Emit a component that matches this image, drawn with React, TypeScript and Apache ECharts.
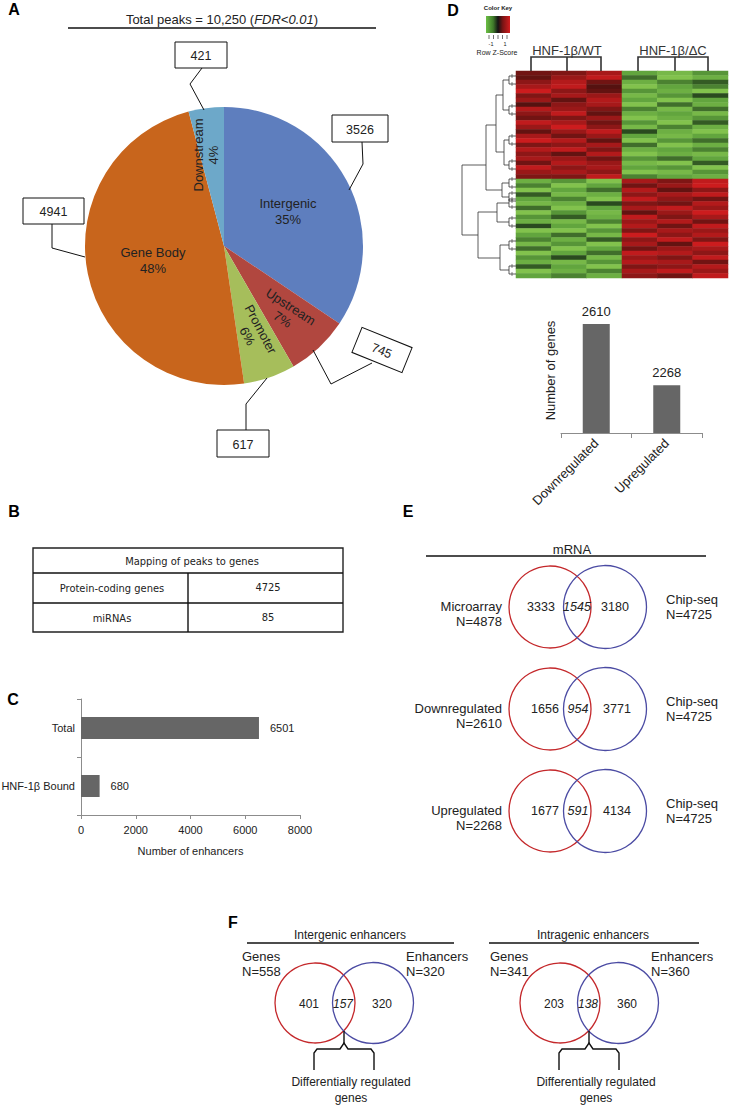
import React, { useEffect, useRef } from 'react';
import * as echarts from 'echarts';

const FONT = '"Liberation Sans", Arial, Helvetica, sans-serif';
const NARROW = '"Liberation Sans Narrow", "Arial Narrow", "DejaVu Sans Condensed", sans-serif';

// ---------- Panel A: peak distribution ----------
const peakTitle = 'Total peaks = 10,250 ({i|FDR<0.01})';
const peakCategories = ['Intergenic', 'Upstream', 'Promoter', 'Gene Body', 'Downstream'];
const peakCounts = [3526, 745, 617, 4941, 421];
const peakColors = ['#5E7EBE', '#B1473F', '#A6BE5B', '#C8651C', '#6DA8C9'];
const peakLabelRotate = [0, -33, -62, 0, 90];

// ---------- Panel B: mapping table ----------
const tableTitle = 'Mapping of peaks to genes';
const tableRows = ['Protein-coding genes', 'miRNAs'];
const tableValues = [4725, 85];

// ---------- Panel C: enhancers ----------
const enhancerCategories = ['HNF-1β Bound', 'Total'];
const enhancerCounts = [680, 6501];

// ---------- Panel D: heatmap + DEG bars ----------
const heatGroups = ['HNF-1β/WT', 'HNF-1β/ΔC'];
const heatCols = ['WT-1', 'WT-2', 'WT-3', 'ΔC-1', 'ΔC-2', 'ΔC-3'];
const heatRows: number[][] = [
  [0.6, 0.7, 1.0, -0.9, -1.1, -0.8],
  [0.5, 0.9, 1.2, -0.6, -1.2, -1.0],
  [0.8, 1.1, 0.6, -1.0, -0.7, -0.5],
  [1.0, 1.2, 0.4, -1.2, -0.9, -0.7],
  [1.3, 0.8, 0.5, -0.8, -1.0, -1.2],
  [0.7, 1.0, 0.9, -1.1, -0.8, -0.4],
  [0.9, 0.5, 1.1, -0.9, -1.2, -0.9],
  [0.4, 0.8, 1.0, -1.2, -0.6, -1.0],
  [1.1, 0.9, 0.7, -0.7, -1.1, -0.6],
  [0.8, 1.2, 0.5, -1.0, -0.9, -1.1],
  [0.6, 0.7, 0.9, -1.2, -1.0, -0.8],
  [1.2, 1.0, 0.6, -0.8, -1.2, -0.5],
  [0.9, 1.3, 0.8, -1.1, -0.7, -1.0],
  [0.5, 0.9, 1.2, -0.4, -1.0, -1.2],
  [1.0, 0.6, 0.9, -0.9, -1.1, -0.9],
  [1.3, 1.1, 0.5, -1.2, -0.8, -0.6],
  [0.7, 0.8, 1.0, -0.6, -1.2, -1.0],
  [1.1, 1.2, 0.7, -1.0, -0.9, -0.7],
  [0.8, 0.5, 1.1, -1.2, -1.0, -1.1],
  [1.0, 0.9, 0.6, -0.8, -0.6, -0.9],
  [0.6, 1.1, 0.9, -1.1, -1.2, -0.5],
  [1.2, 0.8, 1.0, -0.9, -0.8, -1.2],
  [0.9, 1.0, 0.8, -1.2, -1.1, -0.8],
  [0.7, 0.7, 1.2, -0.7, -0.9, -1.0],
  [-1.0, -0.8, -1.2, 1.0, 0.7, 1.2],
  [-0.7, -1.2, -0.9, 0.6, 0.9, 1.3],
  [-1.2, -0.9, -0.6, 1.1, 0.5, 0.8],
  [-0.5, -1.1, -1.0, 0.8, 1.0, 1.2],
  [-0.9, -0.7, -1.2, 1.2, 0.8, 0.6],
  [-1.1, -1.0, -0.4, 0.7, 0.6, 1.1],
  [-0.6, -1.2, -0.9, 1.0, 1.2, 0.9],
  [-1.2, -0.8, -1.1, 0.5, 0.9, 1.3],
  [-0.8, -0.5, -1.0, 1.2, 0.7, 1.0],
  [-1.0, -1.1, -0.7, 0.9, 1.1, 0.6],
  [-0.4, -0.9, -1.2, 1.1, 0.6, 1.2],
  [-1.2, -1.2, -0.8, 0.7, 1.0, 0.9],
  [-0.9, -0.6, -1.1, 1.3, 0.8, 1.1],
  [-0.7, -1.0, -0.5, 0.8, 1.2, 0.7],
  [-1.1, -0.8, -1.2, 1.0, 0.5, 1.3],
  [-0.6, -1.2, -0.9, 0.6, 0.9, 1.0],
  [-1.2, -0.9, -0.6, 1.2, 1.1, 0.8],
  [-0.8, -0.4, -1.1, 0.9, 0.7, 1.2],
  [-1.0, -1.1, -0.8, 1.1, 1.0, 0.6],
  [-0.5, -0.9, -1.2, 0.7, 0.8, 1.1],
  [-1.2, -1.0, -0.7, 1.0, 1.2, 0.9],
  [-0.9, -0.7, -1.0, 0.8, 0.6, 1.2],
];
const degCategories = ['Downregulated', 'Upregulated'];
const degCounts = [2610, 2268];

// ---------- Panel E: mRNA Venns ----------
const eHeader = 'mRNA';
const eLeftNames = ['Microarray', 'Downregulated', 'Upregulated'];
const eLeftN = [4878, 2610, 2268];
const eLeftOnly = [3333, 1656, 1677];
const eBoth = [1545, 954, 591];
const eRightOnly = [3180, 3771, 4134];
const eRightName = 'Chip-seq';
const eRightN = 4725;

// ---------- Panel F: enhancer Venns ----------
const fHeaders = ['Intergenic enhancers', 'Intragenic enhancers'];
const fGenesN = [558, 341];
const fEnhN = [320, 360];
const fGenesOnly = [401, 203];
const fBoth = [157, 138];
const fEnhOnly = [320, 360];
const fBracketText = 'Differentially regulated\ngenes';

// ---------- helpers ----------
const txt = (text: string, x: number, y: number, o: any = {}) => ({
  type: 'text',
  x,
  y,
  z: 50,
  silent: true,
  rotation: o.rotation || 0,
  style: {
    text,
    fill: o.fill || '#222',
    fontSize: o.size || 12,
    fontFamily: o.family || FONT,
    fontWeight: o.weight || 'normal',
    fontStyle: o.italic ? 'italic' : 'normal',
    textAlign: o.align || 'center',
    textVerticalAlign: 'middle',
    lineHeight: o.lineHeight,
    rich: o.rich,
  },
});
const line = (points: number[][], o: any = {}) => ({
  type: 'polyline',
  silent: true,
  z: 40,
  shape: { points },
  style: { stroke: o.stroke || '#111', lineWidth: o.width || 1, fill: 'none' },
});
const circ = (cx: number, cy: number, r: number, stroke: string) => ({
  type: 'circle',
  silent: true,
  shape: { cx, cy, r },
  style: { stroke, lineWidth: 1.3, fill: 'none' },
});
const box = (x: number, y: number, w: number, h: number, lw = 1) => ({
  type: 'rect',
  silent: true,
  z: 45,
  shape: { x, y, width: w, height: h },
  style: { fill: '#fff', stroke: '#111', lineWidth: lw },
});

const PIE_CX = 224;
const PIE_CY = 246;
const PIE_R = 139;

function buildGraphic() {
  const g: any[] = [];
  // panel letters
  [['A', 14, 9], ['B', 14, 511], ['C', 13, 699], ['D', 453, 10], ['E', 408, 511], ['F', 233, 922]].forEach(
    ([l, x, y]: any) => g.push(txt(l, x, y, { size: 16, weight: 'bold', fill: '#000' }))
  );

  // ---- Panel A ----
  g.push(txt(peakTitle, 222, 19, { size: 13, rich: { i: { fontStyle: 'italic', fontSize: 13, fontFamily: FONT, fill: '#222' } } }));
  g.push(line([[68, 28], [376, 28]], { width: 1.3 }));
  // rotated labels for the narrow slices, placed from the data's angles
  const total = peakCounts.reduce((a, b) => a + b, 0);
  let cum = 0;
  peakCounts.forEach((v, i) => {
    const mid = ((cum + v / 2) / total) * 2 * Math.PI;
    cum += v;
    if (peakLabelRotate[i] === 0) return;
    const rr = 0.66 * PIE_R;
    const x = PIE_CX + rr * Math.sin(mid) - (i === 4 ? 6 : 0);
    const y = PIE_CY - rr * Math.cos(mid);
    const pct = Math.round((v / total) * 100);
    g.push(txt(peakCategories[i] + '\n' + pct + '%', x, y, {
      size: 13, lineHeight: 15, rotation: (peakLabelRotate[i] * Math.PI) / 180,
    }));
  });
  // callouts: [index, box x, y, w, h, leader]
  const callouts: any[] = [
    [0, 332, 115, 56, 27, [[362, 142], [363, 164], [349, 190]]],
    [2, 217, 430, 52, 27, [[246, 430], [246, 404], [267, 378]]],
    [3, 23, 198, 61, 26, [[52, 224], [52, 248], [85, 257]]],
    [4, 175, 42, 52, 26, [[202, 68], [190, 84], [204, 110]]],
  ];
  callouts.forEach(([i, x, y, w, h, pts]) => {
    g.push(line(pts));
    g.push(box(x, y, w, h));
    g.push(txt(String(peakCounts[i]), x + w / 2, y + h / 2 + 1, { size: 12.5 }));
  });
  g.push(line([[372, 363], [331, 384], [313, 350]]));
  g.push({
    type: 'group',
    x: 382,
    y: 350,
    rotation: -22 * Math.PI / 180,
    children: [box(-27, -13.5, 54, 27), txt(String(peakCounts[1]), 0, 1, { size: 12.5 })],
  });

  // ---- Panel B ----
  g.push({ type: 'rect', silent: true, shape: { x: 33, y: 548, width: 310, height: 84 }, style: { fill: 'none', stroke: '#222', lineWidth: 1.4 } });
  g.push(line([[33, 573], [343, 573]], { width: 1.4 }));
  g.push(line([[33, 603], [343, 603]], { width: 1.4 }));
  g.push(line([[188, 573], [188, 632]], { width: 1.4 }));
  g.push(txt(tableTitle, 192, 561, { size: 11, family: NARROW }));
  tableRows.forEach((r, i) => {
    g.push(txt(r, 112, 588 + i * 30, { size: 11, family: NARROW }));
    g.push(txt(String(tableValues[i]), 268, 587 + i * 30, { size: 11, family: NARROW }));
  });

  // ---- Panel D: heatmap decorations ----
  g.push(txt('Color Key', 498, 8, { size: 6, weight: 'bold' }));
  g.push({
    type: 'rect',
    silent: true,
    shape: { x: 486, y: 16, width: 24, height: 17 },
    style: {
      fill: new echarts.graphic.LinearGradient(0, 0, 1, 0, [
        { offset: 0, color: '#6CBF45' },
        { offset: 0.3, color: '#3F7A2A' },
        { offset: 0.5, color: '#141414' },
        { offset: 0.7, color: '#7A1414' },
        { offset: 1, color: '#D21C1E' },
      ]),
    },
  });
  [489, 493.5, 498, 502.5, 507].forEach((x) => g.push(line([[x, 35], [x, 39]], { width: 0.7, stroke: '#333' })));
  g.push(txt('-1', 491, 44, { size: 5.5 }));
  g.push(txt('1', 505, 44, { size: 5.5 }));
  g.push(txt('Row Z-Score', 497, 52, { size: 7 }));
  g.push(txt(heatGroups[0], 567, 50, { size: 13, fill: '#333' }));
  g.push(txt(heatGroups[1], 673, 50, { size: 13, fill: '#333' }));
  g.push(line([[531, 71], [531, 57], [601, 57], [601, 71]], { width: 1.6, stroke: '#333' }));
  g.push(line([[567, 57], [567, 71]], { width: 1.6, stroke: '#333' }));
  g.push(line([[638, 71], [638, 57], [708, 57], [708, 71]], { width: 1.6, stroke: '#333' }));
  g.push(line([[675, 57], [675, 71]], { width: 1.6, stroke: '#333' }));
  // row dendrogram
  const dendro: number[][][] = [
    [[462, 165], [462, 235]],
    [[462, 165], [486, 165]],
    [[462, 235], [478, 235]],
    [[486, 125], [486, 190]],
    [[486, 125], [496, 125]],
    [[486, 190], [502, 190]],
    [[496, 95], [496, 152]],
    [[496, 95], [503, 95]],
    [[496, 152], [504, 152]],
    [[503, 80], [503, 110]],
    [[504, 140], [504, 165]],
    [[502, 183], [502, 197]],
    [[478, 212], [478, 258]],
    [[478, 212], [497, 212]],
    [[478, 258], [500, 258]],
    [[497, 203], [497, 222]],
    [[500, 245], [500, 270]],
  ];
  dendro.forEach((p) => g.push(line(p, { width: 0.8, stroke: '#333' })));
  const leaves: number[][] = [
    [503, 80], [503, 110], [504, 140], [504, 165], [502, 183], [502, 197],
    [497, 203], [497, 222], [500, 245], [500, 270],
  ];
  leaves.forEach(([x, y]) => {
    g.push(line([[x, y], [509, y]], { width: 0.8, stroke: '#333' }));
    g.push(line([[516, y - 4], [509, y - 4], [509, y + 4], [516, y + 4]], { width: 0.8, stroke: '#333' }));
    g.push(line([[512, y - 6], [512, y - 2]], { width: 0.6, stroke: '#333' }));
    g.push(line([[512, y + 2], [512, y + 6]], { width: 0.6, stroke: '#333' }));
  });

  // ---- Panel E ----
  g.push(txt(eHeader, 572, 549, { size: 13 }));
  g.push(line([[426, 556], [706, 556]], { width: 1.3 }));
  const eY = [607, 709, 811];
  eY.forEach((cy, i) => {
    g.push(circ(550, cy, 41, '#C4282B'));
    g.push(circ(605, cy, 41.5, '#4B4BA3'));
    g.push(txt(String(eLeftOnly[i]), 541 + (i ? 4 : 0), cy, { size: 12.5 }));
    g.push(txt(String(eBoth[i]), 577 + (i ? 1 : 0), cy, { size: 12.5, italic: true }));
    g.push(txt(String(eRightOnly[i]), 615 + (i ? 2 : 0), cy, { size: 12.5 }));
    g.push(txt(eLeftNames[i], 502, cy - 1, { size: 13, align: 'right' }));
    g.push(txt('N=' + eLeftN[i], 502, cy + 14, { size: 13, align: 'right' }));
    g.push(txt(eRightName, 666, cy - 8, { size: 13, align: 'left' }));
    g.push(txt('N=' + eRightN, 666, cy + 7, { size: 13, align: 'left' }));
  });

  // ---- Panel F ----
  const fOff = [0, 245];
  fHeaders.forEach((h, i) => {
    const d = fOff[i];
    g.push(txt(h, 350 + d - (i ? 2 : 0), 935, { size: 12 }));
    g.push(line([[247 + d - (i ? 3 : 0), 943], [454 + d, 943]], { width: 1.3 }));
    g.push(txt('Genes', 242 + d + (i ? 3 : 0), 956, { size: 13, align: 'left' }));
    g.push(txt('N=' + fGenesN[i], 242 + d + (i ? 3 : 0), 971, { size: 13, align: 'left' }));
    g.push(txt('Enhancers', 406 + d, 956, { size: 13, align: 'left' }));
    g.push(txt('N=' + fEnhN[i], 406 + d, 971, { size: 13, align: 'left' }));
    g.push(circ(315 + d, 1003, 40, '#C4282B'));
    g.push(circ(373 + d, 1003, 40.5, '#4B4BA3'));
    g.push(txt(String(fGenesOnly[i]), 309 + d, 1004, { size: 12 }));
    g.push(txt(String(fBoth[i]), 343 + d, 1004, { size: 12, italic: true }));
    g.push(txt(String(fEnhOnly[i]), 382 + d, 1004, { size: 12 }));
    const bx = 344 + d;
    g.push(line([[bx, 1031], [bx, 1043]], { width: 1.4 }));
    g.push(line([[bx - 30, 1070], [bx - 30, 1053], [bx - 27, 1049], [bx - 4, 1049], [bx, 1043], [bx + 4, 1049], [bx + 27, 1049], [bx + 30, 1053], [bx + 30, 1070]], { width: 1.4 }));
    g.push(txt(fBracketText, 351 + d, 1090, { size: 12, lineHeight: 16 }));
  });
  return g;
}

export default function App() {
  const ref = useRef<HTMLDivElement>(null);
  useEffect(() => {
    if (!ref.current) return;
    const chart = echarts.init(ref.current, null, { renderer: 'svg' });
    const heatData = heatRows.flatMap((row, r) => row.map((v, c) => [c, r, v]));
    const axisGray = '#8c8c8c';
    const option: any = {
      animation: false,
      backgroundColor: '#fff',
      textStyle: { fontFamily: FONT },
      grid: [
        { left: 81, top: 699, width: 219, height: 116, outerBoundsMode: 'none', containLabel: false },
        { left: 561, top: 308, width: 141, height: 125, outerBoundsMode: 'none', containLabel: false },
        { left: 516, top: 71, width: 212, height: 207, outerBoundsMode: 'none', containLabel: false },
      ],
      xAxis: [
        {
          gridIndex: 0, type: 'value', min: 0, max: 8000, interval: 2000,
          axisLine: { show: true, lineStyle: { color: axisGray } },
          axisTick: { show: true, length: 4, lineStyle: { color: axisGray } },
          splitLine: { show: false },
          axisLabel: { color: '#222', fontSize: 11, fontFamily: FONT, margin: 9, formatter: (v: number) => String(v) },
          name: 'Number of enhancers', nameLocation: 'middle', nameGap: 30,
          nameTextStyle: { color: '#222', fontSize: 11, fontFamily: FONT },
        },
        {
          gridIndex: 1, type: 'category', data: degCategories,
          axisLine: { show: true, lineStyle: { color: axisGray } },
          axisTick: { show: true, length: 5, lineStyle: { color: axisGray } },
          axisLabel: { rotate: 45, fontSize: 13, color: '#222', fontFamily: FONT, margin: 8 },
        },
        { gridIndex: 2, type: 'category', data: heatCols, show: false },
      ],
      yAxis: [
        {
          gridIndex: 0, type: 'category', data: enhancerCategories,
          axisLine: { show: true, lineStyle: { color: axisGray } },
          axisTick: { show: true, length: 4, lineStyle: { color: axisGray } },
          axisLabel: { color: '#222', fontSize: 11, fontFamily: FONT, margin: 6 },
        },
        {
          gridIndex: 1, type: 'value', min: 2000, max: 2700,
          axisLine: { show: false }, axisTick: { show: false }, axisLabel: { show: false }, splitLine: { show: false },
          name: 'Number of genes', nameLocation: 'middle', nameGap: 4, nameRotate: 90,
          nameTextStyle: { color: '#222', fontSize: 13, fontFamily: FONT },
        },
        { gridIndex: 2, type: 'category', data: heatRows.map((_, i) => 'gene' + (i + 1)), inverse: true, show: false },
      ],
      visualMap: [
        {
          type: 'continuous', show: false, seriesIndex: 3, min: -1.3, max: 1.3,
          inRange: { color: ['#8CCB52', '#5FA23C', '#2C4E20', '#161610', '#5A1210', '#961818', '#CC1C1E'] },
        },
      ],
      series: [
        {
          type: 'pie', center: [PIE_CX, PIE_CY], radius: [0, PIE_R], startAngle: 90, clockwise: true,
          percentPrecision: 0, avoidLabelOverlap: false, silent: true,
          emphasis: { disabled: true },
          itemStyle: { borderWidth: 0 },
          labelLine: { show: false },
          label: { show: true, position: 'inside', formatter: '{b}\n{d}%', fontSize: 13, lineHeight: 16, color: '#222', fontFamily: FONT },
          data: peakCategories.map((n, i) => ({
            name: n, value: peakCounts[i], itemStyle: { color: peakColors[i] },
            label: { show: peakLabelRotate[i] === 0 },
          })),
        },
        {
          type: 'bar', xAxisIndex: 0, yAxisIndex: 0, data: enhancerCounts, barWidth: 22, silent: true,
          itemStyle: { color: '#666' },
          label: { show: true, position: 'right', distance: 11, fontSize: 11, color: '#222', fontFamily: FONT },
        },
        {
          type: 'bar', xAxisIndex: 1, yAxisIndex: 1, data: degCounts, barWidth: 27, silent: true,
          itemStyle: { color: '#666' },
          label: { show: true, position: 'top', distance: 6, fontSize: 13, color: '#222', fontFamily: FONT },
        },
        {
          type: 'heatmap', xAxisIndex: 2, yAxisIndex: 2, data: heatData, silent: true,
          itemStyle: { borderWidth: 0 }, emphasis: { disabled: true },
        },
      ],
      graphic: buildGraphic(),
    };
    chart.setOption(option);
    return () => chart.dispose();
  }, []);
  return (
    <div
      ref={ref}
      style={{ position: 'absolute', left: 0, top: 0, width: 730, height: 1107, background: '#fff' }}
    />
  );
}
